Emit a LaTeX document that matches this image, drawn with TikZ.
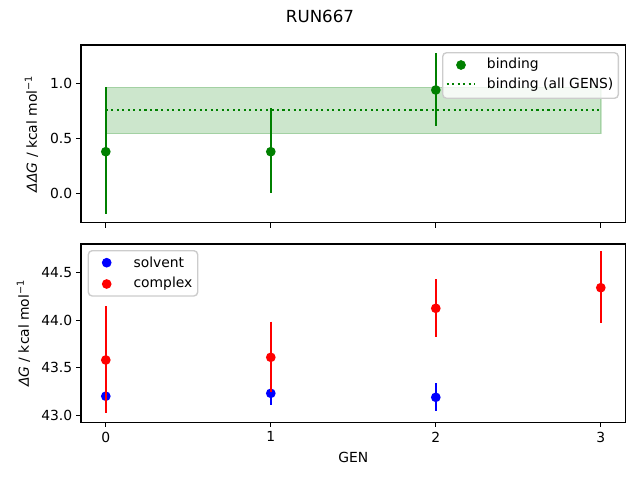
\documentclass[tikz,border=0pt]{standalone}
\usepackage{fontspec}
\setmainfont{DejaVu Sans}
\definecolor{mplgreen}{RGB}{0,128,0}
\definecolor{mplblue}{RGB}{0,0,255}
\definecolor{mplred}{RGB}{255,0,0}
\definecolor{legedge}{RGB}{204,204,204}
\tikzset{
  spine/.style={line width=0.8pt, black},
  tickmark/.style={line width=0.8pt, black},
  ticklab/.style={font=\fontsize{10}{12}\selectfont, inner sep=0pt},
  errbar/.style={line width=1.5pt},
  dot/.style={circle, inner sep=0pt, minimum size=7pt, fill=#1, draw=none},
  legbox/.style={draw=legedge, line width=1pt, fill=white, fill opacity=0.8, rounded corners=2.8pt},
  legtext/.style={font=\fontsize{10}{12}\selectfont, anchor=west, inner sep=0pt},
  mpldotted/.style={line width=1.5pt, dash pattern=on 1.5pt off 2.475pt},
}
\begin{document}
\begin{tikzpicture}[x=0.72pt,y=-0.72pt]
\useasboundingbox (0,0) rectangle (640,480);
% title
\node[font=\fontsize{12}{14}\selectfont] (title) at (320,16) {RUN667};

%% ---------- top panel ----------
% band
\fill[mplgreen, opacity=0.2] (105.8,87.3) rectangle (600.8,133.7);
\draw[mplgreen, opacity=0.2, line width=1pt] (105.8,87.3) rectangle (600.8,133.7);
% dotted mean line
\coordinate (mL) at (105.8,110);
\coordinate (mR) at (600.8,110);
\draw[mplgreen, mpldotted] (mL) -- (mR);
% error bars
\coordinate (b0t) at (105.8,87.3);  \coordinate (b0b) at (105.8,214.3);
\coordinate (b1t) at (270.8,108.3); \coordinate (b1b) at (270.8,193.3);
\coordinate (b2t) at (435.8,53);    \coordinate (b2b) at (435.8,126);
\draw[mplgreen, errbar] (b0t) -- (b0b);
\draw[mplgreen, errbar] (b1t) -- (b1b);
\draw[mplgreen, errbar] (b2t) -- (b2b);
\node[dot=mplgreen] (g0) at (105.8,151.7) {};
\node[dot=mplgreen] (g1) at (270.8,151.7) {};
\node[dot=mplgreen] (g2) at (435.8,90) {};
% spines
\draw[spine] (81,45) rectangle (625.7,222.7);
% y ticks
\foreach \yy/\lab [count=\i] in {83.3/1.0, 138.3/0.5, 193.3/0.0} {
  \draw[tickmark] (81,\yy) -- (76.1,\yy);
  \node[ticklab, anchor=east] (tty\i) at (72.5,\yy) {\lab};
}
% x ticks (no labels)
\foreach \xx in {105.8,270.8,435.8,600.8} {
  \draw[tickmark] (\xx,222.7) -- (\xx,227.6);
}
% y label
\node[rotate=90, font=\fontsize{10}{12}\selectfont] (ylabtop) at (31.5,133.8)
  {{\itshape ΔΔG} / kcal mol\textsuperscript{−1}};
% legend
\draw[legbox] (442.7,52.7) rectangle (618.3,98.3);
\node[dot=mplgreen] (lg1) at (461,65) {};
\coordinate (lgL) at (446.5,84.3);
\coordinate (lgR) at (474.5,84.3);
\draw[mplgreen, mpldotted] (lgL) -- (lgR);
\node[legtext] (lt1) at (486.7,65) {binding};
\node[legtext] (lt2) at (486.7,84.3) {binding (all GENS)};

%% ---------- bottom panel ----------
% solvent error bars
\coordinate (s0t) at (105.8,387);   \coordinate (s0b) at (105.8,406);
\coordinate (s1t) at (270.8,382);   \coordinate (s1b) at (270.8,405);
\coordinate (s2t) at (435.8,383.3); \coordinate (s2b) at (435.8,410.7);
\draw[mplblue, errbar] (s0t) -- (s0b);
\draw[mplblue, errbar] (s1t) -- (s1b);
\draw[mplblue, errbar] (s2t) -- (s2b);
\node[dot=mplblue] (sv0) at (105.8,396.2) {};
\node[dot=mplblue] (sv1) at (270.8,393.3) {};
\node[dot=mplblue] (sv2) at (435.8,397.3) {};
% complex error bars
\coordinate (c0t) at (105.8,306);   \coordinate (c0b) at (105.8,413.3);
\coordinate (c1t) at (270.8,321.7); \coordinate (c1b) at (270.8,391.7);
\coordinate (c2t) at (435.8,279);   \coordinate (c2b) at (435.8,336.7);
\coordinate (c3t) at (600.8,251);   \coordinate (c3b) at (600.8,322.7);
\draw[mplred, errbar] (c0t) -- (c0b);
\draw[mplred, errbar] (c1t) -- (c1b);
\draw[mplred, errbar] (c2t) -- (c2b);
\draw[mplred, errbar] (c3t) -- (c3b);
\node[dot=mplred] (cx0) at (105.8,360) {};
\node[dot=mplred] (cx1) at (270.8,357.3) {};
\node[dot=mplred] (cx2) at (435.8,308.3) {};
\node[dot=mplred] (cx3) at (600.8,287.7) {};
% spines
\draw[spine] (81,244) rectangle (625.7,422.3);
% y ticks
\foreach \yy/\lab [count=\i] in {272.3/44.5, 320.1/44.0, 367.9/43.5, 415.7/43.0} {
  \draw[tickmark] (81,\yy) -- (76.1,\yy);
  \node[ticklab, anchor=east] (bty\i) at (72.5,\yy) {\lab};
}
% x ticks
\foreach \xx/\lab [count=\i] in {105.8/0, 270.8/1, 435.8/2, 600.8/3} {
  \draw[tickmark] (\xx,422.3) -- (\xx,427.2);
  \node[ticklab, anchor=north] (btx\i) at (\xx,431.5) {\lab};
}
% labels
\node[font=\fontsize{10}{12}\selectfont] (xlab) at (353.3,457) {GEN};
\node[rotate=90, font=\fontsize{10}{12}\selectfont] (ylabbot) at (23.5,333.2)
  {{\itshape ΔG} / kcal mol\textsuperscript{−1}};
% legend
\draw[legbox] (88.3,250.7) rectangle (197.7,296);
\node[dot=mplblue] (lb1) at (106.7,262.7) {};
\node[dot=mplred]  (lb2) at (106.7,284) {};
\node[legtext] (lt3) at (133.3,262.7) {solvent};
\node[legtext] (lt4) at (133.3,284) {complex};
\end{tikzpicture}
\end{document}
